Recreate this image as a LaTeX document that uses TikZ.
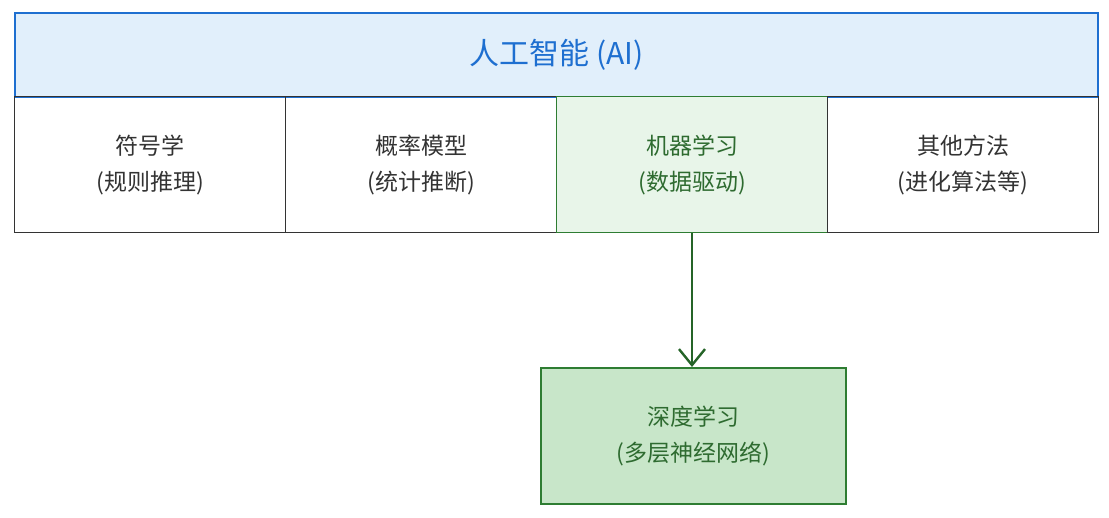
\documentclass[tikz,border=0pt]{standalone}
\usepackage{fontspec}
\newfontfamily\cjk{Noto Sans CJK SC}
\usetikzlibrary{arrows.meta}
\definecolor{bluebd}{HTML}{1E6FD0}
\definecolor{bluefill}{HTML}{E1EFFB}
\definecolor{greenbd}{HTML}{2E7D32}
\definecolor{greenfill}{HTML}{E8F5E9}
\definecolor{greenfill2}{HTML}{C8E6C9}
\definecolor{darktext}{HTML}{333333}
\definecolor{greentext}{HTML}{2E6B30}
\tikzset{
  box/.style={draw=black!80, line width=1.2pt, minimum width=271pt, minimum height=136pt, anchor=north west, align=center, font=\cjk\fontsize{23}{36}\selectfont, text=darktext},
  gbox/.style={box, draw=greenbd, fill=greenfill, text=greentext},
}
\begin{document}
\begin{tikzpicture}[x=1pt,y=-1pt]
\useasboundingbox (0,0) rectangle (1109,518);
\node[draw=bluebd, fill=bluefill, line width=1.6pt, minimum width=1083pt, minimum height=84pt, anchor=north west, text=bluebd, font=\cjk\fontsize{30}{36}\selectfont] (ai) at (14,12) {人工智能 (AI)};
\node[box] (sym) at (14,96) {符号学\\(规则推理)};
\node[box] (prob) at (285,96) {概率模型\\(统计推断)};
\node[gbox] (ml) at (556,96) {机器学习\\(数据驱动)};
\node[box] (other) at (827,96) {其他方法\\(进化算法等)};
\node[gbox, fill=greenfill2, line width=2pt, minimum width=305pt, minimum height=136pt] (dl) at (540,367) {深度学习\\(多层神经网络)};
\draw[-{Straight Barb[length=16pt,width=26pt]}, draw=greenbd!80!black, line width=2.4pt] (ml.south -| 692,0) -- (dl.north -| 692,0);
\end{tikzpicture}
\end{document}
